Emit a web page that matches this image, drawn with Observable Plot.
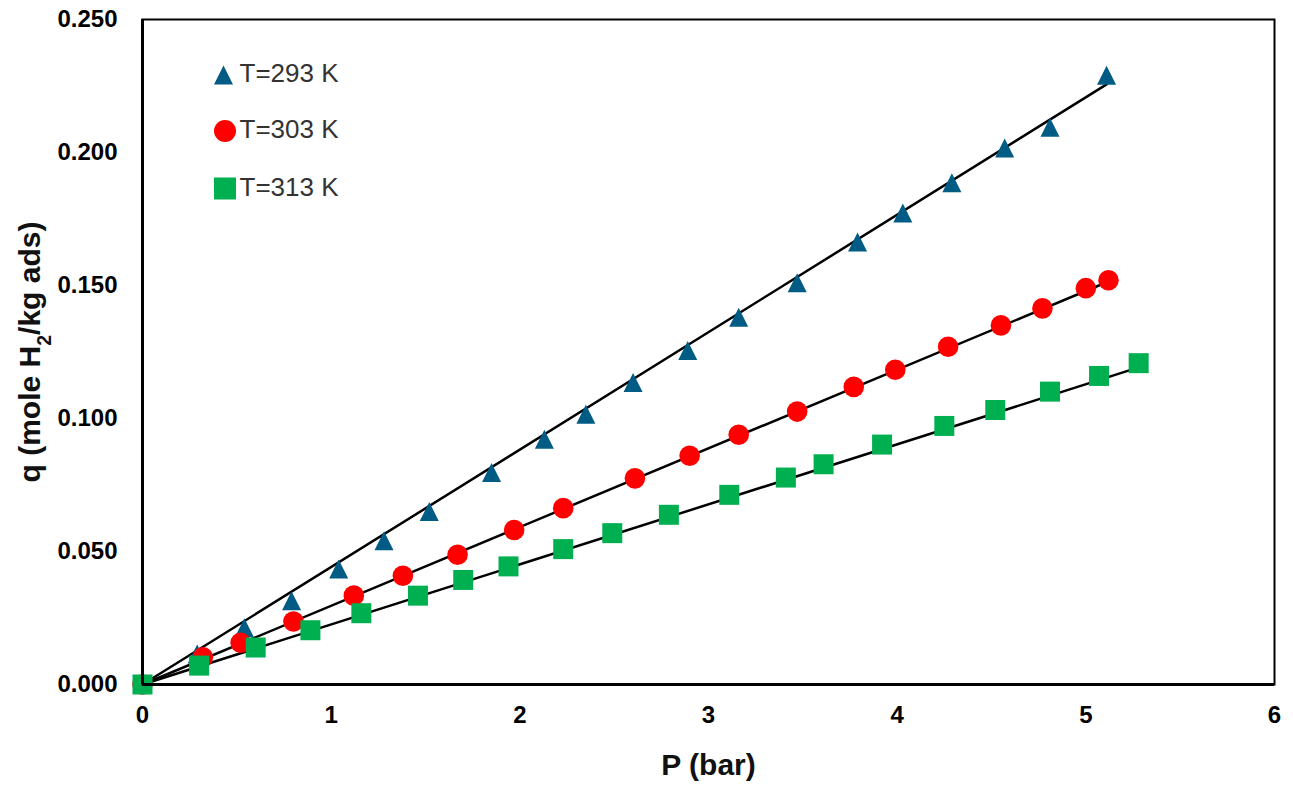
<!DOCTYPE html>
<html>
<head>
<meta charset="utf-8">
<script src="https://cdn.jsdelivr.net/npm/d3@7"></script>
<script src="https://cdn.jsdelivr.net/npm/@observablehq/plot@0.6"></script>
<style>
  body { margin: 0; background: #fff; }
  #chart svg { display: block; }
</style>
</head>
<body>
<div id="chart"></div>
<script>
// ---- data ----
const seriesNames = ["T=293 K", "T=303 K", "T=313 K"];

const P293 = [0, 0.29, 0.54, 0.79, 1.04, 1.28, 1.52, 1.85, 2.13, 2.35, 2.60, 2.89, 3.16, 3.47, 3.79, 4.03, 4.29, 4.57, 4.81, 5.11];
const q293 = [0, 0.0115, 0.0213, 0.0315, 0.0434, 0.0540, 0.0650, 0.0797, 0.0922, 0.1016, 0.1135, 0.1256, 0.1381, 0.1510, 0.1664, 0.1773, 0.1886, 0.2017, 0.2095, 0.2290];

const P303 = [0, 0.32, 0.52, 0.80, 1.12, 1.38, 1.67, 1.97, 2.23, 2.61, 2.90, 3.16, 3.47, 3.77, 3.99, 4.27, 4.55, 4.77, 5.00, 5.12];
const q303 = [0, 0.0102, 0.0157, 0.0237, 0.0334, 0.0409, 0.0488, 0.0581, 0.0663, 0.0775, 0.0860, 0.0939, 0.1026, 0.1119, 0.1183, 0.1270, 0.1350, 0.1414, 0.1490, 0.1520];

const P313 = [0, 0.30, 0.60, 0.89, 1.16, 1.46, 1.70, 1.94, 2.23, 2.49, 2.79, 3.11, 3.41, 3.61, 3.92, 4.25, 4.52, 4.81, 5.07, 5.28];
const q313 = [0, 0.0071, 0.0139, 0.0204, 0.0268, 0.0334, 0.0393, 0.0444, 0.0509, 0.0569, 0.0638, 0.0713, 0.0778, 0.0828, 0.0902, 0.0972, 0.1032, 0.1101, 0.1160, 0.1208];

// fitted lines (end points)
const fitP293 = [0, 5.11], fitQ293 = [0, 0.2256];
const fitP303 = [0, 5.12], fitQ303 = [0, 0.1515];
const fitP313 = [0, 5.28], fitQ313 = [0, 0.1192];

const xTicks = [0, 1, 2, 3, 4, 5, 6];
const yTicks = [0, 0.05, 0.10, 0.15, 0.20, 0.25];

const xTitle = "P (bar)";
const yTitle = "q (mole H2/kg ads)";

// ---- symbols ----
const triangle = {
  draw(ctx, size) {
    const r = Math.sqrt(size / Math.PI);
    ctx.moveTo(0, -r);
    ctx.lineTo(r, r);
    ctx.lineTo(-r, r);
    ctx.closePath();
  }
};
const square = {
  draw(ctx, size) {
    const r = Math.sqrt(size / Math.PI);
    ctx.rect(-r, -r, 2 * r, 2 * r);
  }
};

const series = [
  {name: seriesNames[0], P: P293, q: q293, fP: fitP293, fQ: fitQ293, color: "#005B85", symbol: triangle, r: 9.5, lr: 9.5, ldx: 81, ldy: 55.5},
  {name: seriesNames[1], P: P303, q: q303, fP: fitP303, fQ: fitQ303, color: "#FF0000", symbol: "circle", r: 10.3, lr: 11, ldx: 82.5, ldy: 111.5},
  {name: seriesNames[2], P: P313, q: q313, fP: fitP313, fQ: fitQ313, color: "#00B050", symbol: square, r: 10, lr: 11, ldx: 82.5, ldy: 169}
];

const rowsOf = s => s.P.map((p, i) => ({P: p, q: s.q[i], name: s.name}));
const fitRows = series.flatMap(s => s.fP.map((p, i) => ({P: p, q: s.fQ[i], name: s.name})));

const font = "'Liberation Sans', Arial, sans-serif";

const marks = [
  Plot.axisX({ticks: xTicks, tickSize: 0, tickPadding: 21, fontSize: 24, fontWeight: "bold", label: null, tickFormat: d3.format("d")}),
  Plot.axisY({ticks: yTicks, tickSize: 0, tickPadding: 25, fontSize: 24, fontWeight: "bold", label: null, tickFormat: d3.format(".3f")}),
  Plot.line(fitRows, {x: "P", y: "q", z: "name", stroke: "black", strokeWidth: 2.5}),
  ...series.map(s => Plot.dot(rowsOf(s), {x: "P", y: "q", symbol: s.symbol, r: s.r, fill: s.color, stroke: "none"})),
  Plot.frame({stroke: "black", strokeWidth: 2}),
  Plot.ruleX([0], {stroke: "black", strokeWidth: 3}),
  Plot.ruleY([0], {stroke: "black", strokeWidth: 3}),
  // legend
  ...series.map(s => Plot.dot([s.name], {frameAnchor: "top-left", dx: s.ldx, dy: s.ldy, symbol: s.symbol, r: s.lr, fill: s.color, stroke: "none"})),
  ...series.map(s => Plot.text([s.name], {frameAnchor: "top-left", dx: 97, dy: s.ldy - 1, text: d => d, textAnchor: "start", lineAnchor: "middle", fontSize: 26, fill: "#333"})),
  // axis titles
  Plot.text([xTitle], {frameAnchor: "bottom", dy: 81, text: d => d, textAnchor: "middle", lineAnchor: "middle", fontSize: 30, fontWeight: "bold", fill: "#111"}),
  Plot.text([yTitle], {frameAnchor: "left", dx: -112, rotate: -90, text: d => d, textAnchor: "middle", lineAnchor: "middle", fontSize: 30, fontWeight: "bold", fill: "#111"})
];

const chart = Plot.plot({
  width: 1293,
  height: 790,
  marginLeft: 142,
  marginRight: 19,
  marginTop: 19,
  marginBottom: 106,
  style: {fontFamily: font, color: "black", background: "white"},
  x: {domain: [0, 6]},
  y: {domain: [0, 0.25]},
  marks
});

// subscript the 2 in H2
d3.select(chart).selectAll("text").filter(function () { return this.textContent === yTitle; })
  .each(function () {
    const t = d3.select(this);
    t.text(null);
    t.append("tspan").text("q (mole H");
    t.append("tspan").attr("baseline-shift", "sub").attr("font-size", "65%").text("2");
    t.append("tspan").text("/kg ads)");
  });

document.getElementById("chart").append(chart);
</script>
</body>
</html>
